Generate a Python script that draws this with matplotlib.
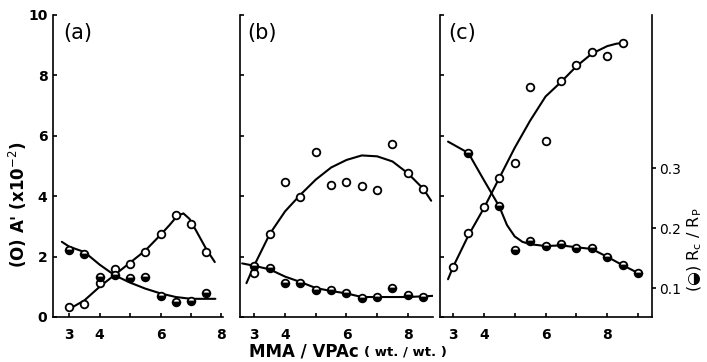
import matplotlib
matplotlib.use('Agg')
import matplotlib.pyplot as plt

# ---------------- data ----------------
# panel (a)
a_open_x = [3.0, 3.5, 4.0, 4.5, 5.0, 5.5, 6.0, 6.5, 7.0, 7.5]
a_open_y = [0.33, 0.42, 1.13, 1.60, 1.77, 2.15, 2.76, 3.37, 3.07, 2.15]
a_fill_x = [3.0, 3.5, 4.0, 4.5, 5.0, 5.5, 6.0, 6.5, 7.0, 7.5]
a_fill_y = [0.163, 0.157, 0.118, 0.121, 0.117, 0.118, 0.086, 0.077, 0.078, 0.092]
a_open_curve_x = [3.03, 3.5, 4.0, 4.5, 5.0, 5.5, 6.0, 6.3, 6.55, 6.75, 6.95, 7.2, 7.5, 7.78]
a_open_curve_y = [0.28, 0.55, 1.0, 1.4, 1.8, 2.2, 2.72, 3.05, 3.35, 3.43, 3.25, 2.8, 2.25, 1.82]
a_fill_curve_x = [2.76, 3.0, 3.5, 4.0, 4.5, 5.0, 5.5, 6.0, 6.5, 7.0, 7.8]
a_fill_curve_y = [0.177, 0.169, 0.160, 0.139, 0.121, 0.109, 0.099, 0.091, 0.085, 0.082, 0.082]

# panel (b)
b_open_x = [3.0, 3.5, 4.0, 4.5, 5.0, 5.5, 6.0, 6.5, 7.0, 7.5, 8.0, 8.5]
b_open_y = [1.45, 2.75, 4.46, 3.96, 5.45, 4.37, 4.46, 4.35, 4.20, 5.73, 4.76, 4.23]
b_fill_x = [3.0, 3.5, 4.0, 4.5, 5.0, 5.5, 6.0, 6.5, 7.0, 7.5, 8.0, 8.5]
b_fill_y = [0.137, 0.133, 0.108, 0.108, 0.097, 0.097, 0.092, 0.083, 0.085, 0.100, 0.088, 0.085]
b_open_curve_x = [2.74, 3.0, 3.5, 4.0, 4.5, 5.0, 5.5, 6.0, 6.5, 7.0, 7.5, 8.0, 8.5, 8.76]
b_open_curve_y = [1.12, 1.72, 2.75, 3.5, 4.05, 4.55, 4.95, 5.2, 5.35, 5.32, 5.15, 4.76, 4.25, 3.85]
b_fill_curve_x = [2.6, 3.0, 3.5, 4.0, 4.5, 5.0, 5.5, 6.0, 6.5, 7.0, 8.0, 8.85]
b_fill_curve_y = [0.141, 0.137, 0.131, 0.119, 0.110, 0.100, 0.095, 0.091, 0.085, 0.085, 0.085, 0.087]

# panel (c)
c_open_x = [3.0, 3.5, 4.0, 4.5, 5.0, 5.5, 6.0, 6.5, 7.0, 7.5, 8.0, 8.5]
c_open_y = [1.65, 2.79, 3.65, 4.61, 5.09, 7.63, 5.84, 7.81, 8.34, 8.76, 8.65, 9.08]
c_fill_x = [3.5, 4.5, 5.0, 5.5, 6.0, 6.5, 7.0, 7.5, 8.0, 8.5, 9.0]
c_fill_y = [0.325, 0.236, 0.163, 0.179, 0.170, 0.173, 0.167, 0.167, 0.151, 0.139, 0.125]
c_open_curve_x = [2.84, 3.0, 3.5, 4.0, 4.5, 5.0, 5.5, 6.0, 6.5, 7.0, 7.5, 8.0, 8.3, 8.55]
c_open_curve_y = [1.25, 1.65, 2.7, 3.6, 4.6, 5.6, 6.5, 7.3, 7.78, 8.3, 8.72, 8.97, 9.05, 9.08]
c_fill_curve_x = [2.84, 3.5, 4.0, 4.25, 4.5, 4.75, 5.0, 5.25, 5.5, 6.0, 6.5, 7.0, 7.5, 8.0, 8.5, 9.0]
c_fill_curve_y = [0.344, 0.325, 0.280, 0.258, 0.236, 0.205, 0.186, 0.177, 0.173, 0.170, 0.171, 0.168, 0.165, 0.152, 0.138, 0.125]

y_ticks = [0, 2, 4, 6, 8, 10]
x_ticks = [3, 4, 5, 6, 7, 8, 9]
x_tick_labels = {3: '3', 4: '4', 5: '', 6: '6', 7: '', 8: '8', 9: ''}
r_ticks = [0.1, 0.2, 0.3]
r_tick_labels = ['0.1', '0.2', '0.3']

# ---------------- layout ----------------
W, H = 707, 362
fig = plt.figure(figsize=(W / 100, H / 100), dpi=100)
TOP, BOT = 15, 317

def fx(px):
    return px / W

def fy(py):
    return 1 - py / H

LW = 1.5
open_style = dict(marker='o', ms=5.5, mfc='white', mec='black', mew=1.3, ls='none', zorder=5)
fill_style = dict(marker='o', ms=5.5, mfc='black', mec='black', mew=1.3, ls='none',
                  fillstyle='bottom', markerfacecoloralt='white', zorder=5)

panels = [
    dict(l=53, r=223, xlim=(2.47, 8.05), lab='(a)', labx=63,
         ox=a_open_x, oy=a_open_y, fxv=a_fill_x, fyv=a_fill_y,
         ocx=a_open_curve_x, ocy=a_open_curve_y, fcx=a_fill_curve_x, fcy=a_fill_curve_y),
    dict(l=240, r=433, xlim=(2.53, 8.82), lab='(b)', labx=247,
         ox=b_open_x, oy=b_open_y, fxv=b_fill_x, fyv=b_fill_y,
         ocx=b_open_curve_x, ocy=b_open_curve_y, fcx=b_fill_curve_x, fcy=b_fill_curve_y),
    dict(l=440, r=652, xlim=(2.58, 9.45), lab='(c)', labx=448,
         ox=c_open_x, oy=c_open_y, fxv=c_fill_x, fyv=c_fill_y,
         ocx=c_open_curve_x, ocy=c_open_curve_y, fcx=c_fill_curve_x, fcy=c_fill_curve_y),
]

for i, p in enumerate(panels):
    ax = fig.add_axes([fx(p['l']), fy(BOT), fx(p['r']) - fx(p['l']), (BOT - TOP) / H])
    ax.set_xlim(*p['xlim'])
    ax.set_ylim(0, 10)
    ax.patch.set_alpha(0)
    for s in ['top', 'right']:
        ax.spines[s].set_visible(False)
    for s in ['left', 'bottom']:
        ax.spines[s].set_linewidth(1.2)
    xt = [t for t in x_ticks if p['xlim'][0] <= t <= p['xlim'][1]]
    ax.set_xticks(xt)
    ax.set_xticklabels([x_tick_labels[t] for t in xt])
    ax.set_yticks(y_ticks)
    if i == 0:
        ax.set_yticklabels([str(t) for t in y_ticks])
    else:
        ax.set_yticklabels([])
    ax.tick_params(direction='in', length=3, width=1.2, labelsize=10, pad=4)
    ax.tick_params(axis='x', pad=8)
    for lbl in ax.get_xticklabels() + ax.get_yticklabels():
        lbl.set_fontweight('bold')

    ax.plot(p['ocx'], p['ocy'], color='black', lw=LW, solid_capstyle='round', zorder=3)
    ax.plot(p['ox'], p['oy'], **open_style)

    ax2 = ax.twinx()
    ax2.set_ylim(0.0517, 0.555)
    ax2.set_xlim(*p['xlim'])
    for s in ['top', 'left', 'bottom']:
        ax2.spines[s].set_visible(False)
    if i == 2:
        ax2.spines['right'].set_linewidth(1.2)
        ax2.set_yticks(r_ticks)
        ax2.set_yticklabels(r_tick_labels)
        ax2.tick_params(axis='y', direction='out', length=3, width=1.2, labelsize=10, pad=2)
    else:
        ax2.spines['right'].set_visible(False)
        ax2.set_yticks([])
    ax2.plot(p['fcx'], p['fcy'], color='black', lw=LW, solid_capstyle='round', zorder=3)
    ax2.plot(p['fxv'], p['fyv'], **fill_style)

    fig.text(fx(p['labx']), fy(33), p['lab'], fontsize=15, va='center', ha='left')

fig.text(fx(18), fy(205), "(O) A' (x10$^{-2}$)", rotation=90, fontsize=12, fontweight='bold',
         ha='center', va='center')
fig.text(fx(695), fy(250), "(\u25D2) R$_\\mathregular{c}$ / R$_\\mathregular{P}$", rotation=90,
         fontsize=11.5, ha='center', va='center')
fig.text(fx(249), fy(352), "MMA / VPAc", fontsize=12, fontweight='bold', ha='left', va='center')
fig.text(fx(364), fy(352), "( wt. / wt. )", fontsize=9.5, fontweight='bold', ha='left', va='center')

fig.savefig('out.png', dpi=100)
